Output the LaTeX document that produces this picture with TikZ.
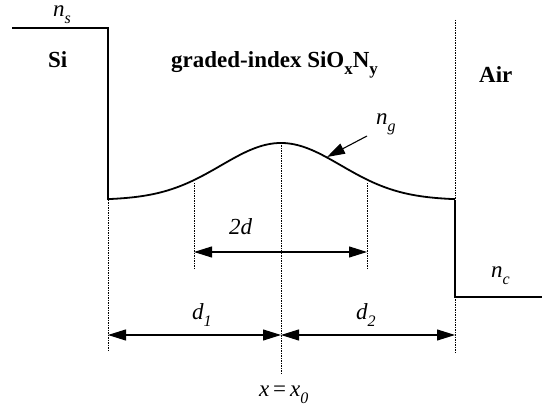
\documentclass[tikz,border=0pt]{standalone}
\usepackage{fontspec}
\setmainfont{Liberation Serif}
\usetikzlibrary{arrows.meta}
\newcommand{\isub}[1]{\raisebox{-7pt}{\fontsize{16}{16}\selectfont\itshape #1}}
\newcommand{\bsub}[1]{\raisebox{-7pt}{\fontsize{17}{17}\selectfont\bfseries #1}}
\begin{document}
\begin{tikzpicture}[x=1pt,y=-1pt,
  prof/.style={line width=1.8pt},
  guide/.style={line width=0.7pt,dash pattern=on 1.2pt off 1.3pt},
  dim/.style={line width=1.1pt,{Triangle[length=18pt,width=11pt]}-{Triangle[length=18pt,width=11pt]}},
  lbl/.style={font=\fontsize{23}{25}\selectfont\itshape,inner sep=0pt,anchor=base west},
  reg/.style={font=\fontsize{23}{25}\selectfont\bfseries,inner sep=0pt,anchor=base west}]
\useasboundingbox (0,0) rectangle (542,411);
% profile
\coordinate (A) at (12,28);
\coordinate (B) at (108,28);
\coordinate (C) at (108,200);
\coordinate (D) at (455,200);
\coordinate (E) at (455,297);
\coordinate (F) at (542,297);
\coordinate (P) at (281,143);
\draw[prof] (A) -- (B) -- (C);
\draw[prof] plot[domain=108:455,samples=120,smooth] ({\x},{200-57*exp(-0.5*((\x-281)/60)^2)});
\draw[prof] (D) -- (E) -- (F);
% guides
\coordinate (g1b) at (108,352);
\coordinate (g2b) at (281,375);
\coordinate (g3t) at (194,183);
\coordinate (g3b) at (194,270);
\coordinate (g4t) at (367,183);
\coordinate (g4b) at (367,270);
\coordinate (g5t) at (455,20);
\coordinate (g5b) at (455,354);
\draw[guide] (C) -- (g1b);
\draw[guide] (P) -- (g2b);
\draw[guide] (g3t) -- (g3b);
\draw[guide] (g4t) -- (g4b);
\draw[guide] (g5t) -- (D);
\draw[guide] (E) -- (g5b);
% dimension arrows
\coordinate (a1) at (194,252);
\coordinate (a2) at (367,252);
\coordinate (b1) at (108,335);
\coordinate (b2) at (281,335);
\coordinate (b3) at (455,335);
\draw[dim] (a1) -- (a2);
\draw[dim] (b1) -- (b2);
\draw[dim] (b2) -- (b3);
% labels
\node[lbl,text height=11pt] (ns) at (53,17) {n\isub{s}};
\node[lbl] (nc) at (491,278) {n\isub{c}};
\node[lbl] (ng) at (376,125) {n\isub{g}};
\node[lbl] (l2d) at (229,235) {2d};
\node[lbl] (ld1) at (192,320) {d\isub{1}};
\node[lbl] (ld2) at (356,320) {d\isub{2}};
\node[lbl] (lx) at (259,397) {x\,{\upshape=}\,x\isub{0}};
\node[reg] (si) at (48,68) {Si};
\node[reg] (gr) at (171,68) {graded-index SiO\bsub{x}N\bsub{y}};
\node[reg] (air) at (479,83) {Air};
\coordinate (ngs) at (367,136);
\coordinate (ngt) at (327,157);
\draw[line width=1.1pt,-{Triangle[length=18pt,width=11pt]}] (ngs) -- (ngt);
\end{tikzpicture}
\end{document}
